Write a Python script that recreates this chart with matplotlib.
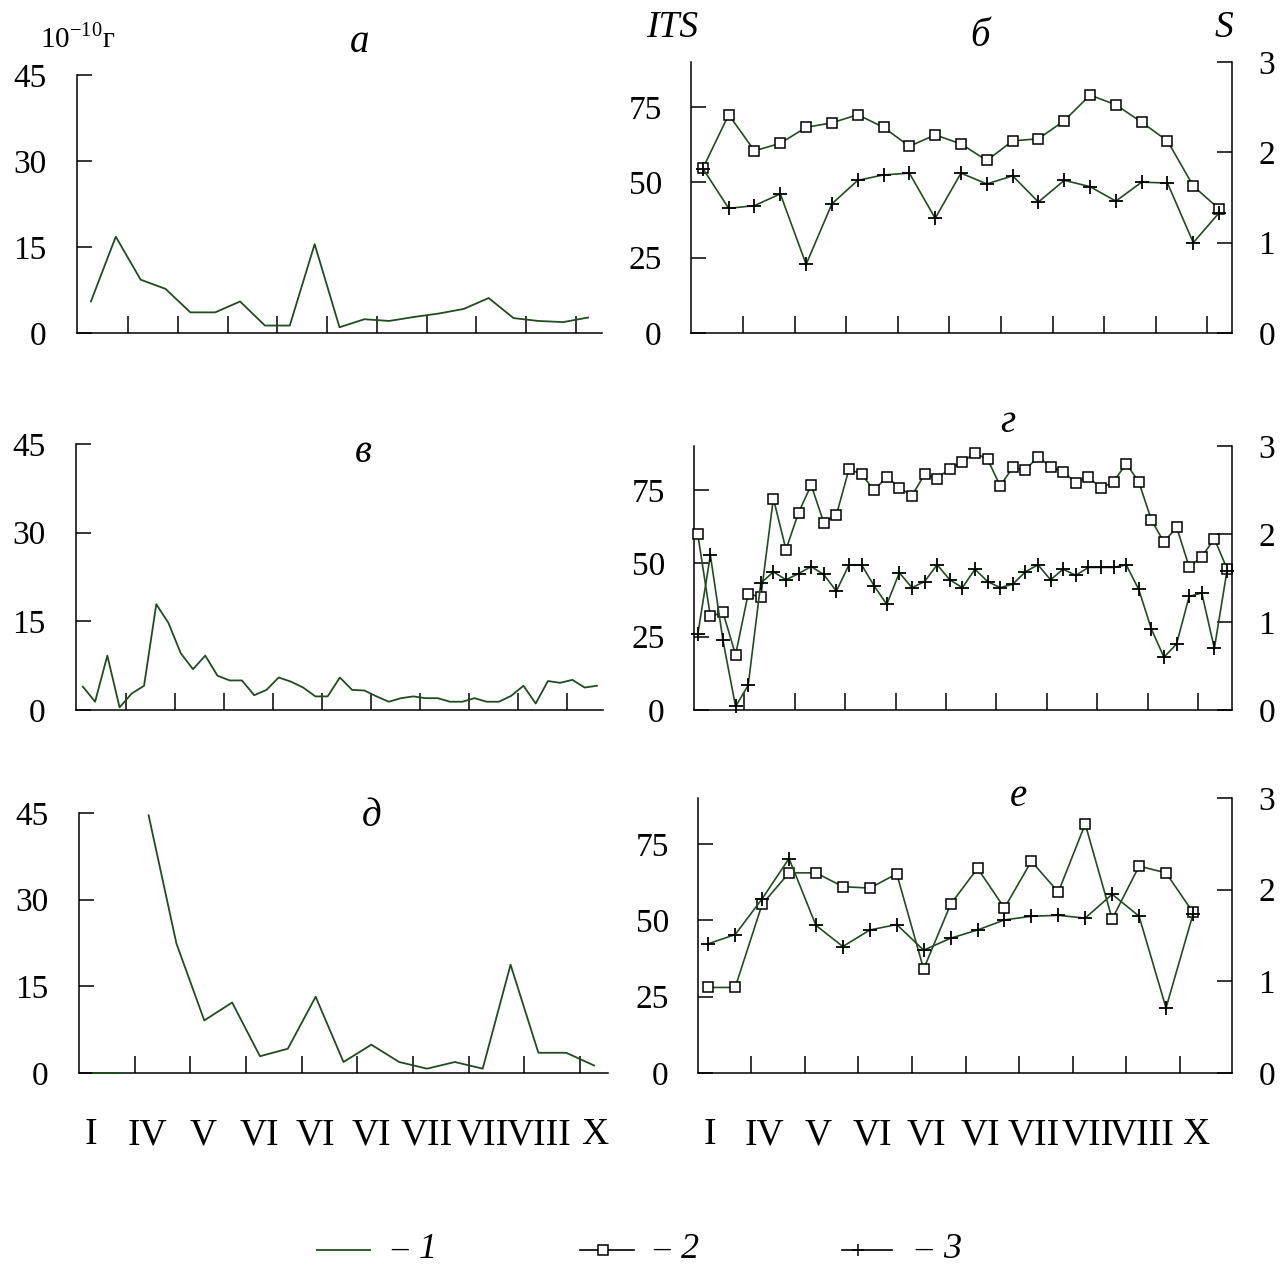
import numpy as np
import matplotlib
matplotlib.use('Agg')
import matplotlib.pyplot as plt
from matplotlib.lines import Line2D

plt.rcParams['font.family'] = ['Liberation Serif', 'DejaVu Serif']
plt.rcParams['mathtext.fontset'] = 'custom'
plt.rcParams['mathtext.rm'] = 'Liberation Serif'

W, H = 1284, 1272
GREEN = '#1f4d1f'

# month labels under the bottom row
months = ['I', 'IV', 'V', 'VI', 'VI', 'VI', 'VII', 'VII', 'VIII', 'X']

# а - concentration, 10^-10 g
a_vals = [5.5, 16.8, 9.3, 7.7, 3.6, 3.6, 5.5, 1.3, 1.3, 15.5, 1.0,
          2.4, 2.1, 2.8, 3.4, 4.2, 6.1, 2.6, 2.1, 1.9, 2.7]
# б - ITS (left) and S (right)
b_its = [54.7, 72.5, 60.5, 63.0, 68.3, 69.8, 72.5, 68.3, 62.0, 65.8, 62.8,
         57.3, 63.8, 64.5, 70.5, 79.0, 75.8, 70.0, 63.8, 48.8, 41.2]
b_s = [1.82, 1.38, 1.41, 1.54, 0.76, 1.43, 1.69, 1.75, 1.77, 1.27, 1.77,
       1.65, 1.74, 1.45, 1.69, 1.62, 1.46, 1.67, 1.66, 1.00, 1.33]
# в
v_vals = [3.95, 1.4, 9.2, 0.45, 2.8, 4.1, 17.9, 14.7, 9.6, 6.9, 9.2,
          5.8, 5.0, 5.0, 2.5, 3.4, 5.5, 4.8, 3.8, 2.3, 2.3, 5.5,
          3.4, 3.3, 2.3, 1.4, 2.0, 2.3, 2.0, 2.0, 1.4, 1.4, 2.0,
          1.4, 1.4, 2.4, 4.1, 1.1, 4.9, 4.6, 5.1, 3.8, 4.1]
# г
g_its = [59.9, 31.9, 33.3, 18.8, 39.6, 38.5, 72.1, 54.7, 67.3, 76.7, 63.9,
         66.5, 82.1, 80.4, 74.9, 79.5, 75.8, 73.0, 80.4, 78.9, 82.3, 84.6,
         87.6, 85.5, 76.4, 82.7, 81.8, 86.4, 82.9, 81.2, 77.5, 79.5, 75.6,
         77.8, 84.0, 77.8, 64.8, 57.2, 62.4, 48.8, 52.2, 58.4, 48.2]
g_s = [0.86, 1.76, 0.79, 0.04, 0.28, 1.44, 1.57, 1.48, 1.55, 1.63, 1.54,
       1.35, 1.65, 1.65, 1.41, 1.20, 1.56, 1.39, 1.46, 1.65, 1.48, 1.39,
       1.60, 1.46, 1.39, 1.43, 1.57, 1.65, 1.48, 1.60, 1.53, 1.62, 1.62,
       1.62, 1.65, 1.37, 0.92, 0.60, 0.75, 1.29, 1.33, 0.70, 1.58]
# д - the first two samples are a separate piece of the line
d_vals = [0, 0, 44.6, 22.4, 9.1, 12.2, 2.9, 4.2, 13.2, 1.9, 4.9,
          1.9, 0.75, 1.9, 0.75, 18.75, 3.5, 3.5, 1.3]
d_break = 2
# е
e_its = [28.0, 28.0, 55.2, 65.5, 65.5, 61.0, 60.5, 65.2, 34.0, 55.2,
         67.0, 54.0, 69.3, 59.2, 81.5, 50.4, 67.7, 65.5, 52.6]
e_s = [1.41, 1.51, 1.90, 2.34, 1.61, 1.38, 1.56, 1.62, 1.34, 1.47,
       1.56, 1.67, 1.71, 1.72, 1.69, 1.95, 1.71, 0.71, 1.73]


fig = plt.figure(figsize=(W / 100, H / 100), dpi=100)


def box(l, t, r, b):
    return [l / W, 1 - b / H, (r - l) / W, (b - t) / H]


def ftext(x, y, s, **kw):
    fig.text(x / W, 1 - y / H, s, **kw)


def style(ax, xlim, xticks, ylim, yticks, pad=22):
    ax.set_xlim(*xlim)
    ax.set_ylim(*ylim)
    ax.set_xticks(xticks)
    ax.set_xticklabels([])
    ax.set_yticks(yticks)
    ax.tick_params(direction='in', length=11, width=1.1, labelsize=24, pad=pad)
    ax.tick_params(axis='x', length=12)
    for sp in ('top', 'right'):
        ax.spines[sp].set_visible(False)
    for sp in ('left', 'bottom'):
        ax.spines[sp].set_linewidth(1.1)


def conc_panel(rect, vals, xlim, xticks):
    ax = fig.add_axes(box(*rect))
    x = np.arange(len(vals))
    ax.plot(x, vals, color=GREEN, lw=1.3, clip_on=False)
    style(ax, xlim, xticks, (0, 45), [0, 15, 30, 45])
    return ax


def index_panel(rect, its, s, xlim, xticks):
    ax = fig.add_axes(box(*rect))
    x = np.arange(len(its))
    ax.plot(x, its, color=GREEN, lw=1.2, marker='s', ms=7.5, mfc='white',
            mec='black', mew=1.1, clip_on=False, zorder=3)
    style(ax, xlim, xticks, (0, 90), [0, 25, 50, 75], pad=21)
    ax.yaxis.get_major_ticks()[0].tick1line.set_visible(False)
    ax2 = ax.twinx()
    ax2.plot(x, s, color=GREEN, lw=1.2, marker='+', ms=10, mec='black',
             mew=1.3, clip_on=False, zorder=3)
    ax2.set_ylim(0, 3)
    ax2.set_yticks([0, 1, 2, 3])
    ax2.tick_params(direction='in', length=11, width=1.1, labelsize=24, pad=19)
    ax2.spines['top'].set_visible(False)
    ax2.spines['right'].set_linewidth(1.1)
    ax2.spines['left'].set_visible(False)
    ax2.spines['bottom'].set_visible(False)
    return ax


conc_panel((77, 75, 602, 333), a_vals, (-0.56, 20.56),
           1.5 + 2 * np.arange(10))
conc_panel((76, 444, 603, 710), v_vals, (-0.56, 42.5),
           3.5 + 4.01 * np.arange(10))

# д: draw the two pieces separately so they are not joined
ax_d = fig.add_axes(box(79, 813, 608, 1073))
xd = np.arange(len(d_vals))
ax_d.plot(xd[:d_break], d_vals[:d_break], color=GREEN, lw=1.3,
          clip_on=False, zorder=5)
ax_d.plot(xd[d_break:], d_vals[d_break:], color=GREEN, lw=1.3)
style(ax_d, (-0.5, 18.5), 1.5 + 2 * np.arange(9), (0, 45), [0, 15, 30, 45])

index_panel((691, 62, 1232, 333), b_its, b_s, (-0.46, 20.5),
            1.55 + 2 * np.arange(10))
index_panel((694, 446, 1232, 710), g_its, g_s, (-0.3, 42.4),
            3.7 + 4.0 * np.arange(10))
index_panel((698, 798, 1232, 1073), e_its, e_s, (-0.38, 19.45),
            1.6 + 1.99 * np.arange(9))

# axis captions and panel letters
ftext(40, 47, '10$^{-10}$г', fontsize=21, va='baseline')
ftext(672, 28, 'ITS', fontsize=27, style='italic', ha='center', va='center')
ftext(1224, 28, 'S', fontsize=27, style='italic', ha='center', va='center')
for (px, py), letter in zip([(360, 43), (980, 37), (363, 452), (1008, 422),
                             (372, 817), (1018, 797)],
                            ['а', 'б', 'в', 'г', 'д', 'е']):
    ftext(px, py, letter, fontsize=28, style='italic', ha='center', va='center')

# month labels
for i, m in enumerate(months):
    ftext(91 + 56 * i, 1135, m, fontsize=27, ha='center', va='center')
    ftext(710 + 54 * i, 1135, m, fontsize=27, ha='center', va='center')

# legend
ly = 1250
fig.add_artist(Line2D([317 / W, 370 / W], [1 - ly / H] * 2, color=GREEN, lw=1.3))
fig.add_artist(Line2D([580 / W, 603 / W, 634 / W], [1 - ly / H] * 3,
                      color='black', lw=1.2, marker='s', ms=7, mfc='white',
                      mec='black', mew=1.1, markevery=[1]))
fig.add_artist(Line2D([842 / W, 858 / W, 892 / W], [1 - ly / H] * 3,
                      color='black', lw=1.2, marker='+', ms=8, mec='black',
                      mew=1.1, markevery=[1]))
for dx, num in [(400, '1'), (662, '2'), (924, '3')]:
    ftext(dx, ly, '–', fontsize=24, ha='center', va='center')
    ftext(dx + 28, ly, num, fontsize=26, style='italic', ha='center', va='center')

fig.savefig('out.png', dpi=100, facecolor='white')
